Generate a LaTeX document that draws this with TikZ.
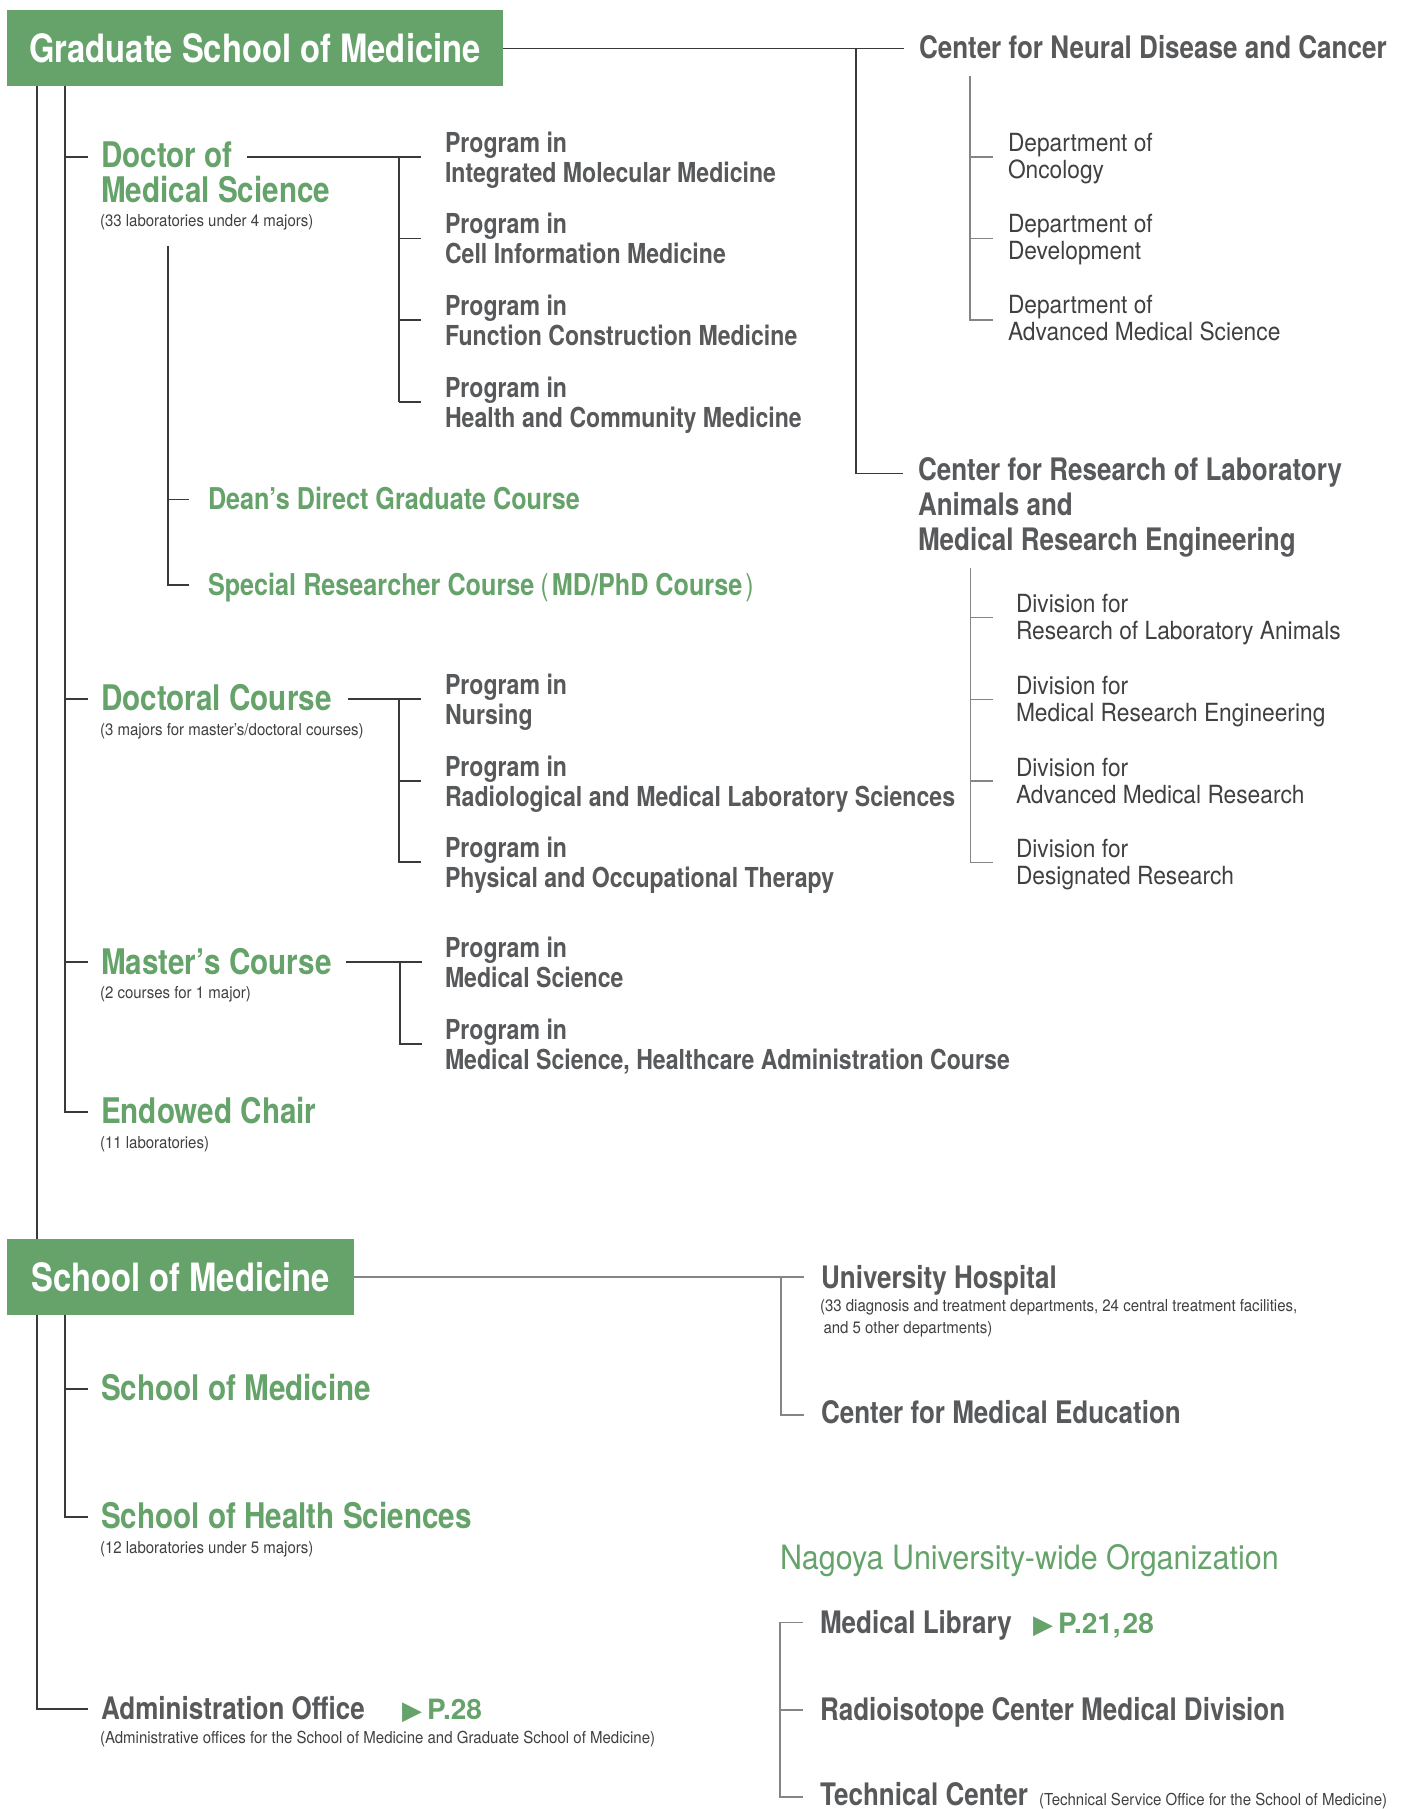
\documentclass[tikz,border=0pt]{standalone}
\usepackage{fontspec}
\usetikzlibrary{calc}
\setmainfont{TeX Gyre Heros}
\newfontfamily\cnd{TeX Gyre Heros}[FakeStretch=0.84]
\newfontfamily\lgt{TeX Gyre Heros}[FakeStretch=0.91]
\newfontfamily\sym{DejaVu Sans}
\definecolor{mgreen}{HTML}{65A36B}
\definecolor{tgray}{HTML}{58595B}
\definecolor{ldark}{HTML}{404040}
\definecolor{lnd}{HTML}{3A3A3A}
\definecolor{lng}{HTML}{858585}
\newcommand{\ml}[1]{\begin{tabular}[t]{@{}l@{}}#1\end{tabular}}
\tikzset{
  headbox/.style={fill=mgreen, text=white, font=\cnd\bfseries\fontsize{39}{39}\selectfont,
    inner xsep=22pt, inner ysep=0pt, minimum height=76pt, text depth=0pt, anchor=north west},
  txt/.style={inner sep=0pt, outer sep=0pt, anchor=base west},
  gtitle/.style={txt, text=mgreen, font=\cnd\bfseries\fontsize{35.3}{35}\selectfont},
  gsub/.style={txt, text=mgreen, font=\cnd\bfseries\fontsize{30}{30}\selectfont},
  head/.style={txt, text=tgray, font=\cnd\bfseries\fontsize{31}{35}\selectfont},
  prog/.style={txt, text=tgray, font=\cnd\bfseries\fontsize{27.5}{30}\selectfont},
  dept/.style={txt, text=ldark, font=\lgt\fontsize{25}{27}\selectfont},
  note/.style={txt, text=ldark, font=\lgt\fontsize{16.5}{21.5}\selectfont},
  orgt/.style={txt, text=mgreen, font=\lgt\fontsize{33.5}{33.5}\selectfont},
  pref/.style={txt, text=mgreen, font=\bfseries\fontsize{28}{28}\selectfont},
  tri/.style={txt, text=mgreen, font=\sym\fontsize{26}{26}\selectfont},
  dk/.style={draw=lnd, line width=1.3pt},
  gy/.style={draw=lng, line width=1.6pt}
}
\begin{document}
\begin{tikzpicture}[x=1pt, y=-1pt]
\useasboundingbox (0,0) rectangle (1406,1809);

% ---------- Graduate School of Medicine ----------
\node[headbox] (gsm) at (7,10) {Graduate School of Medicine};

\node[head] (cnd) at (919,59) {Center for Neural Disease and Cancer};
\node[dept] (d1) at (1008,151) {\ml{Department of\\Oncology}};
\node[dept] (d2) at (1008,232) {\ml{Department of\\Development}};
\node[dept] (d3) at (1008,313.5) {\ml{Department of\\Advanced Medical Science}};

\node[head] (crl) at (918,480) {\ml{Center for Research of Laboratory\\Animals and\\Medical Research Engineering}};
\node[dept] (v1) at (1016,612.5) {\ml{Division for\\Research of Laboratory Animals}};
\node[dept] (v2) at (1016,694.5) {\ml{Division for\\Medical Research Engineering}};
\node[dept] (v3) at (1016,776) {\ml{Division for\\Advanced Medical Research}};
\node[dept] (v4) at (1016,857.5) {\ml{Division for\\Designated Research}};

\node[gtitle] (doc) at (101,167) {Doctor of};
\node[gtitle] (docb) at (101,202) {Medical Science};
\node[note] (docn) at (100,226) {(33 laboratories under 4 majors)};
\node[prog] (p1) at (445,152) {\ml{Program in\\Integrated Molecular Medicine}};
\node[prog] (p2) at (445,233.5) {\ml{Program in\\Cell Information Medicine}};
\node[prog] (p3) at (445,315) {\ml{Program in\\Function Construction Medicine}};
\node[prog] (p4) at (445,397) {\ml{Program in\\Health and Community Medicine}};

\node[gsub] (dean) at (208,509.5) {Dean’s Direct Graduate Course};
\node[gsub] (spc) at (208,595) {Special Researcher Course\kern6pt{\mdseries(}\kern3pt MD/PhD Course\kern3pt{\mdseries)}};

\node[gtitle] (dc) at (101,710.5) {Doctoral Course};
\node[note] (dcn) at (100,735) {(3 majors for master’s/doctoral courses)};
\node[prog] (q1) at (445,694) {\ml{Program in\\Nursing}};
\node[prog] (q2) at (445,776) {\ml{Program in\\Radiological and Medical Laboratory Sciences}};
\node[prog] (q3) at (445,857) {\ml{Program in\\Physical and Occupational Therapy}};

\node[gtitle] (ms) at (101,974) {Master’s Course};
\node[note] (msn) at (100,998) {(2 courses for 1 major)};
\node[prog] (m1) at (445,957.5) {\ml{Program in\\Medical Science}};
\node[prog] (m2) at (445,1039) {\ml{Program in\\Medical Science, Healthcare Administration Course}};

\node[gtitle] (ec) at (101,1123.5) {Endowed Chair};
\node[note] (ecn) at (100,1148) {(11 laboratories)};

% ---------- School of Medicine ----------
\node[headbox, inner xsep=24pt] (smb) at (7,1239) {School of Medicine};
\node[gtitle] (som) at (101,1400) {School of Medicine};
\node[gtitle] (hs) at (101,1528) {School of Health Sciences};
\node[note] (hsn) at (100,1553) {(12 laboratories under 5 majors)};
\node[head] (adm) at (101,1719) {Administration Office};
\node[tri] (admt) at (402,1719) {▶};
\node[pref] (admp) at (427,1719) {P.28};
\node[note] (admn) at (100,1743) {(Administrative offices for the School of Medicine and Graduate School of Medicine)};

\node[head] (uh) at (821,1288) {University Hospital};
\node[note] (uhn) at (820,1311.5) {\ml{(33 diagnosis and treatment departments, 24 central treatment facilities,\\\hspace*{3.5pt}and 5 other departments)}};
\node[head] (cme) at (821,1423.5) {Center for Medical Education};

\node[orgt] (nag) at (780,1569) {Nagoya University-wide Organization};
\node[head] (lib) at (820,1633) {Medical Library};
\node[tri] (libt) at (1033,1633) {▶};
\node[pref] (libp) at (1058,1633) {P.21,\kern2pt28};
\node[head] (ric) at (820,1720) {Radioisotope Center Medical Division};
\node[head] (tec) at (820,1805) {Technical Center};
\node[note] (tecn) at (1039,1805) {(Technical Service Office for the School of Medicine)};

% ---------- connectors ----------
\coordinate (mx) at (37,1709);
\draw[dk] (gsm.south -| mx) -- (smb.north -| mx);
\draw[dk, shorten >=13pt] (smb.south -| mx) -- (mx) -- (mx -| adm.west);

\coordinate (k1) at (65,157);
\coordinate (k2) at (65,699);
\coordinate (k3) at (65,962);
\coordinate (k4) at (65,1112);
\draw[dk, shorten >=13pt] (gsm.south -| k4) -- (k4) -- (k4 -| ec.west);
\foreach \k/\n in {k1/doc, k2/dc, k3/ms}
  \draw[dk, shorten >=13pt] (\k) -- (\k -| \n.west);

% programs of the doctor of medical science
\coordinate (pa1) at (399,157);
\coordinate (pa2) at (399,238.5);
\coordinate (pa3) at (399,320);
\coordinate (pa4) at (399,402);
\draw[dk, shorten <=15pt, shorten >=24pt] (doc.east |- pa1) -- (p1.west |- pa1);
\draw[dk] (pa1) -- (pa4);
\foreach \k/\n in {pa2/p2, pa3/p3, pa4/p4}
  \draw[dk, shorten >=24pt] (\k) -- (\k -| \n.west);

% dean's course and special researcher course
\coordinate (da0) at (168,246);
\coordinate (da1) at (168,499.5);
\coordinate (da2) at (168,585);
\draw[dk, shorten >=19pt] (da0) -- (da2) -- (da2 -| spc.west);
\draw[dk, shorten >=19pt] (da1) -- (da1 -| dean.west);

% doctoral course programs
\coordinate (qa1) at (399,699);
\coordinate (qa2) at (399,781);
\coordinate (qa3) at (399,862);
\draw[dk, shorten <=16pt, shorten >=24pt] (dc.east |- qa1) -- (q1.west |- qa1);
\draw[dk, shorten >=24pt] (qa1) -- (qa3) -- (qa3 -| q3.west);
\draw[dk, shorten >=24pt] (qa2) -- (qa2 -| q2.west);

% master's course programs
\coordinate (ma1) at (400,962);
\coordinate (ma2) at (400,1044);
\draw[dk, shorten <=14pt, shorten >=23pt] (ms.east |- ma1) -- (m1.west |- ma1);
\draw[dk, shorten >=23pt] (ma1) -- (ma2) -- (ma2 -| m2.west);

% research centers
\coordinate (cj) at (856,48);
\coordinate (cr) at (856,473.5);
\draw[dk, shorten >=15pt] (gsm.east) -- (gsm.east -| cnd.west);
\draw[dk, shorten >=15pt] (cj) -- (cr) -- (cr -| crl.west);

\coordinate (dt0) at (970,76);
\coordinate (dt1) at (970,157);
\coordinate (dt2) at (970,238.5);
\coordinate (dt3) at (970,320);
\draw[gy, shorten >=15pt] (dt0) -- (dt3) -- (dt3 -| d3.west);
\draw[gy, shorten >=15pt] (dt1) -- (dt1 -| d1.west);
\draw[gy, shorten >=15pt] (dt2) -- (dt2 -| d2.west);

\coordinate (vt0) at (970.5,568);
\coordinate (vt1) at (970.5,617.5);
\coordinate (vt2) at (970.5,699.5);
\coordinate (vt3) at (970.5,781);
\coordinate (vt4) at (970.5,862.5);
\draw[gy, shorten >=23pt] (vt0) -- (vt4) -- (vt4 -| v4.west);
\foreach \k/\n in {vt1/v1, vt2/v2, vt3/v3}
  \draw[gy, shorten >=23pt] (\k) -- (\k -| \n.west);

% school of medicine
\coordinate (k5) at (65,1389);
\coordinate (k6) at (65,1517);
\draw[dk, shorten >=13pt] (smb.south -| k6) -- (k6) -- (k6 -| hs.west);
\draw[dk, shorten >=13pt] (k5) -- (k5 -| som.west);

\coordinate (uj) at (781,1277);
\coordinate (ue) at (781,1415);
\draw[gy, shorten >=17pt] (smb.east) -- (smb.east -| uh.west);
\draw[gy, shorten >=17pt] (uj) -- (ue) -- (ue -| cme.west);

% university-wide organization
\coordinate (n1) at (780,1622.5);
\coordinate (n2) at (780,1710);
\coordinate (n3) at (780,1797);
\draw[gy, shorten <=17pt, shorten >=17pt] (n1 -| lib.west) -- (n1) -- (n3) -- (n3 -| tec.west);
\draw[gy, shorten >=17pt] (n2) -- (n2 -| ric.west);
\end{tikzpicture}
\end{document}
